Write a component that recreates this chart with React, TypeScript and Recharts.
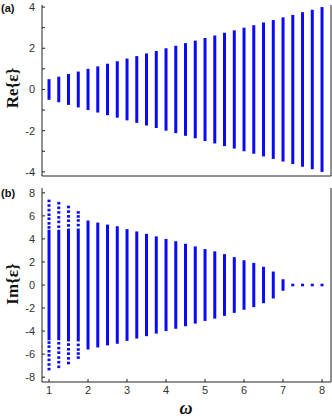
import React from 'react';
import { ComposedChart, Line, Scatter, XAxis, YAxis } from 'recharts';

const BLUE = '#0a0af5';
const AXIS = '#222222';
const TICKTXT = '#333333';

// frequencies (omega) of each column
const omega = [1, 1.25, 1.5, 1.75, 2, 2.25, 2.5, 2.75, 3, 3.25, 3.5, 3.75, 4, 4.25, 4.5, 4.75, 5, 5.25, 5.5, 5.75, 6, 6.25, 6.5, 6.75, 7, 7.25, 7.5, 7.75, 8];

// panel (a): half extent of Re{eps} band at each omega
const reHalf = [0.5, 0.62, 0.75, 0.87, 1.0, 1.12, 1.25, 1.37, 1.5, 1.62, 1.75, 1.87, 2.0, 2.12, 2.25, 2.37, 2.5, 2.62, 2.75, 2.87, 3.0, 3.12, 3.25, 3.37, 3.5, 3.62, 3.75, 3.87, 4.0];

// panel (b): half extent of the dense Im{eps} column at each omega
const imDenseHalf = [4.8, 4.8, 4.9, 4.9, 5.6, 5.42, 5.24, 5.1, 4.85, 4.65, 4.44, 4.22, 4.0, 3.8, 3.58, 3.35, 3.12, 2.92, 2.68, 2.42, 2.15, 1.92, 1.58, 1.17, 0.5, 0, 0, 0, 0];

// panel (b): separate outer dots (both signs) for the first columns
const outerOmega = [1, 1.25, 1.5, 1.75];
const outerDots = [
  [5.0, 5.35, 5.75, 6.1, 6.5, 6.9, 7.3],
  [5.06, 5.48, 5.87, 6.3, 6.7, 7.1],
  [5.17, 5.58, 5.96, 6.37, 6.77],
  [5.2, 5.6, 5.95, 6.3],
];

// panel (b): isolated points at Im = 0
const zeroOmega = [7.25, 7.5, 7.75, 8];

const xTicks = [1, 2, 3, 4, 5, 6, 7, 8];
const reTicks = [-4, -3, -2, -1, 0, 1, 2, 3, 4];
const imTicks = [-8, -6, -4, -2, 0, 2, 4, 6, 8];

const X_DOMAIN: [number, number] = [0.82, 8.23];

const reCols = omega.map((w, i) => [
  { x: w, y: -reHalf[i] },
  { x: w, y: reHalf[i] },
]);

const imCols = omega
  .map((w, i) => ({ w, h: imDenseHalf[i] }))
  .filter((c) => c.h > 0)
  .map((c) => [
    { x: c.w, y: -c.h },
    { x: c.w, y: c.h },
  ]);

const dotPts: { x: number; y: number }[] = [];
outerOmega.forEach((w, i) => {
  outerDots[i].forEach((v) => {
    dotPts.push({ x: w, y: v });
    dotPts.push({ x: w, y: -v });
  });
});
zeroOmega.forEach((w) => dotPts.push({ x: w, y: 0 }));

const Square = (props: any) => {
  const { cx, cy } = props;
  if (cx == null || cy == null) return null;
  return <rect x={cx - 1.5} y={cy - 1.3} width={3} height={2.6} fill={BLUE} />;
};

const tickStyle = { fill: TICKTXT, fontSize: 11, fontFamily: 'Liberation Sans, Arial, sans-serif' };

const frameAxes = (yDomain: [number, number], yTicks: number[], showX: boolean, evenOnly: boolean) => [
  <XAxis
    key="xb"
    dataKey="x"
    type="number"
    domain={X_DOMAIN}
    allowDataOverflow
    ticks={xTicks}
    interval={0}
    height={showX ? 38 : 4}
    tick={showX ? tickStyle : false}
    tickSize={-3}
    tickMargin={7}
    axisLine={{ stroke: AXIS, strokeWidth: 1 }}
    tickLine={{ stroke: AXIS }}
  />,
  <XAxis
    key="xt"
    xAxisId="t"
    orientation="top"
    type="number"
    domain={X_DOMAIN}
    allowDataOverflow
    ticks={xTicks}
    interval={0}
    height={0}
    tick={false}
    tickSize={-3}
    axisLine={{ stroke: AXIS, strokeWidth: 1 }}
    tickLine={{ stroke: AXIS }}
  />,
  <YAxis
    key="yl"
    dataKey="y"
    type="number"
    domain={yDomain}
    allowDataOverflow
    ticks={yTicks}
    interval={0}
    width={42}
    tick={tickStyle}
    tickFormatter={(v: number) => (evenOnly && v % 2 !== 0 ? '' : String(v))}
    tickSize={-3}
    tickMargin={10}
    axisLine={{ stroke: AXIS, strokeWidth: 1 }}
    tickLine={{ stroke: AXIS }}
  />,
  <YAxis
    key="yr"
    yAxisId="r"
    orientation="right"
    type="number"
    domain={yDomain}
    allowDataOverflow
    ticks={yTicks}
    interval={0}
    width={1}
    tick={false}
    tickSize={-3}
    axisLine={{ stroke: AXIS, strokeWidth: 1 }}
    tickLine={{ stroke: AXIS }}
  />,
];

export default function App() {
  return (
    <div style={{ position: 'absolute', left: 0, top: 0, width: 332, height: 420, background: '#fff' }}>
      <div style={{ position: 'absolute', left: 0, top: 0 }}>
        <ComposedChart width={332} height={180} margin={{ top: 5, right: 0, bottom: 0, left: 0 }}>
          {frameAxes([-4.2, 4.1], reTicks, false, true)}
          {reCols.map((d, i) => (
            <Line
              key={'re' + i}
              data={d}
              dataKey="y"
              stroke={BLUE}
              strokeWidth={3}
              dot={false}
              activeDot={false}
              isAnimationActive={false}
            />
          ))}
        </ComposedChart>
      </div>
      <div style={{ position: 'absolute', left: 0, top: 183 }}>
        <ComposedChart width={332} height={237} margin={{ top: 5, right: 0, bottom: 0, left: 0 }}>
          {frameAxes([-8.42, 8.42], imTicks, true, false)}
          {imCols.map((d, i) => (
            <Line
              key={'im' + i}
              data={d}
              dataKey="y"
              stroke={BLUE}
              strokeWidth={3}
              dot={false}
              activeDot={false}
              isAnimationActive={false}
            />
          ))}
          <Scatter data={dotPts} dataKey="y" shape={Square} isAnimationActive={false} />
        </ComposedChart>
      </div>
      <svg
        width={332}
        height={420}
        style={{ position: 'absolute', left: 0, top: 0, pointerEvents: 'none' }}
      >
        <text x={1} y={12} fontSize={11} fontWeight="bold" fontFamily="Liberation Sans, Arial, sans-serif" fill="#111">
          (a)
        </text>
        <text x={1} y={197} fontSize={11} fontWeight="bold" fontFamily="Liberation Sans, Arial, sans-serif" fill="#111">
          (b)
        </text>
        <text
          x={12}
          y={88}
          transform="rotate(-90 12 88)"
          textAnchor="middle"
          dominantBaseline="central"
          fontSize={17}
          fontWeight="bold"
          fontFamily="Liberation Serif, Times New Roman, serif"
          fill="#111"
        >
          Re{'{ε}'}
        </text>
        <text
          x={12}
          y={284}
          transform="rotate(-90 12 284)"
          textAnchor="middle"
          dominantBaseline="central"
          fontSize={17}
          fontWeight="bold"
          fontFamily="Liberation Serif, Times New Roman, serif"
          fill="#111"
        >
          Im{'{ε}'}
        </text>
        <text
          x={186}
          y={408}
          textAnchor="middle"
          dominantBaseline="central"
          fontSize={18}
          fontWeight="bold"
          fontStyle="italic"
          fontFamily="Liberation Serif, Times New Roman, serif"
          fill="#111"
        >
          ω
        </text>
      </svg>
    </div>
  );
}
